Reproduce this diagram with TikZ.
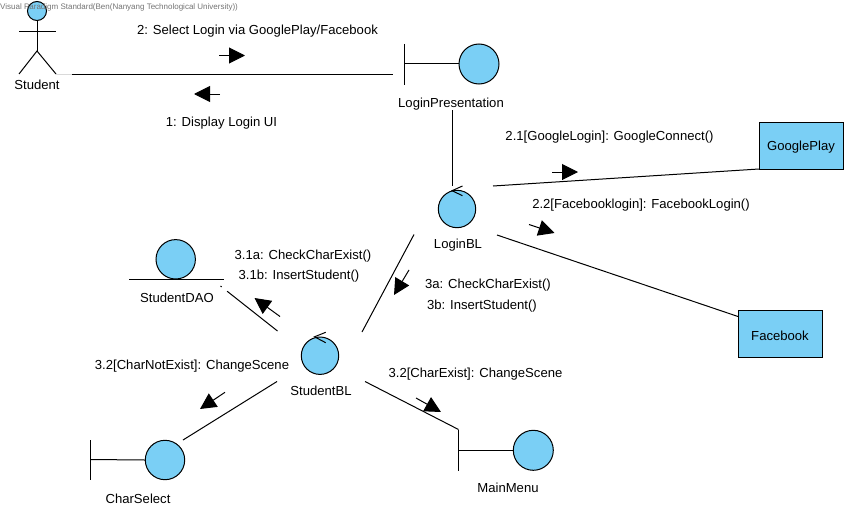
\documentclass[tikz,border=0pt]{standalone}
\usepackage{fontspec}
\setmainfont{Liberation Sans}
\usetikzlibrary{arrows.meta}
\definecolor{vpblue}{HTML}{7ACFF5}
\tikzset{
  line/.style={draw=black,line width=1pt},
  ball/.style={circle,draw=black,fill=vpblue,line width=1pt,inner sep=0pt,minimum size=#1},
  lab/.style={anchor=base,inner sep=0pt,yshift=-1.2pt,font=\fontsize{13.1}{15}\selectfont},
  boxnode/.style={rectangle,draw=black,fill=vpblue,line width=1pt,inner sep=0pt,minimum width=84pt,minimum height=47pt,font=\fontsize{13.1}{15}\selectfont},
  msgarrow/.style={line,-{Triangle[length=16pt,width=16pt]}}
}
\begin{document}
\begin{tikzpicture}[x=1pt,y=-1pt]
\useasboundingbox (0,0) rectangle (848,511);
% actor
\node[ball=19pt] (head) at (37,11) {};
\coordinate (hip) at (37,51);
\coordinate (armL) at (19,32); \coordinate (armR) at (56,32);
\coordinate (legL) at (19,74); \coordinate (legR) at (56,74);
\draw[line] (head.south) -- (hip);
\draw[line] (armL) -- (armR);
\draw[line] (legL) -- (hip) -- (legR);
\node[lab] (student) at (37,88) {Student};
% LoginPresentation
\node[ball=40pt] (lp) at (479,64) {};
\coordinate (lpT) at (404,44); \coordinate (lpB) at (404,85); \coordinate (lpM) at (404,64);
\draw[line] (lpT) -- (lpB);
\draw[line] (lpM) -- (lp.west);
\node[lab] (lpl) at (451,106) {LoginPresentation};
% LoginBL
\node[ball=37.4pt] (lbl) at (457,209) {};
\coordinate (lblA) at (462.5,186); \coordinate (lblB) at (452,190.7); \coordinate (lblC) at (462.5,195.7);
\draw[line] (lblA) -- (lblB) -- (lblC);
\node[lab] (lbll) at (458,247) {LoginBL};
% boxes
\node[boxnode] (gp) at (801,145.5) {\raisebox{-5.1pt}[0pt][0pt]{GooglePlay}};
\node[boxnode] (fb) at (780,334) {\raisebox{-6.6pt}[0pt][0pt]{Facebook}};
% StudentDAO
\node[ball=39.4pt] (dao) at (175.7,259.3) {};
\coordinate (daoL) at (129,279.3); \coordinate (daoR) at (224,279.3);
\draw[line] (daoL) -- (daoR);
\node[lab] (daol) at (177,301) {StudentDAO};
% StudentBL
\node[ball=37.4pt] (sbl) at (320,355.7) {};
\coordinate (sblA) at (325.7,332.3); \coordinate (sblB) at (314.5,336.8); \coordinate (sblC) at (325.7,342.7);
\draw[line] (sblA) -- (sblB) -- (sblC);
\node[lab] (sbll) at (321,394) {StudentBL};
% CharSelect
\node[ball=39.4pt] (cs) at (165,460) {};
\coordinate (csT) at (90.3,440); \coordinate (csB) at (90.3,480); \coordinate (csM) at (90.3,459.5);
\draw[line] (csT) -- (csB);
\draw[line] (csM) -- (cs.west);
\node[lab] (csl) at (138,502) {CharSelect};
% MainMenu
\node[ball=40pt] (mm) at (533.3,450.3) {};
\coordinate (mmT) at (458.5,429.5); \coordinate (mmB) at (458.5,471); \coordinate (mmM) at (458.5,450.3);
\draw[line] (mmT) -- (mmB);
\draw[line] (mmM) -- (mm.west);
\node[lab] (mml) at (508,491) {MainMenu};
% links
\coordinate (s0) at (56,74); \coordinate (s1) at (72,74); \coordinate (s2) at (393,74);
\draw[draw=black!15,line width=.8pt] (s0) -- (s1);
\draw[line] (s1) -- (s2);
\coordinate (a1) at (452,110); \coordinate (a2) at (452,186);
\draw[line] (a1) -- (a2);
\coordinate (b1) at (493,186); \coordinate (b2) at (759,169);
\draw[line] (b1) -- (b2);
\coordinate (c1) at (497,235); \coordinate (c2) at (738,316.5);
\draw[line] (c1) -- (c2);
\coordinate (d1) at (414,234.5); \coordinate (d2) at (362,332);
\draw[line] (d1) -- (d2);
\coordinate (e1) at (220.5,286); \coordinate (e2) at (277.5,331);
\draw[line,dash pattern=on 1.5pt off 7pt on 100pt] (e1) -- (e2);
\coordinate (f1) at (183,440); \coordinate (f2) at (277,381.5);
\draw[line] (f1) -- (f2);
\coordinate (g1) at (365,381.5); \coordinate (g2) at (458.5,429.5);
\draw[line] (g1) -- (g2);
% message arrows
\coordinate (m1a) at (219,55.5); \coordinate (m1b) at (245,55.5);
\draw[msgarrow] (m1a) -- (m1b);
\coordinate (m2a) at (220,94); \coordinate (m2b) at (194,94);
\draw[msgarrow] (m2a) -- (m2b);
\coordinate (m3a) at (552,172); \coordinate (m3b) at (578,172);
\draw[msgarrow] (m3a) -- (m3b);
\coordinate (m4a) at (529,224.5); \coordinate (m4b) at (554.5,233);
\draw[msgarrow] (m4a) -- (m4b);
\coordinate (m5a) at (409,270); \coordinate (m5b) at (394,295);
\draw[msgarrow] (m5a) -- (m5b);
\coordinate (m6a) at (280,316.5); \coordinate (m6b) at (254.5,298);
\draw[msgarrow] (m6a) -- (m6b);
\coordinate (m7a) at (225,392.3); \coordinate (m7b) at (200,409);
\draw[msgarrow] (m7a) -- (m7b);
\coordinate (m8a) at (416,398); \coordinate (m8b) at (441,412);
\draw[msgarrow] (m8a) -- (m8b);
% message labels
\node[lab] (t1) at (257.5,33) {2: Select Login via GooglePlay/Facebook};
\node[lab] (t2) at (221.5,125) {1: Display Login UI};
\node[lab] (t3) at (609.5,139) {2.1[GoogleLogin]: GoogleConnect()};
\node[lab] (t4) at (641,207) {2.2[Facebooklogin]: FacebookLogin()};
\node[lab] (t5) at (488,287) {3a: CheckCharExist()};
\node[lab] (t6) at (482,308) {3b: InsertStudent()};
\node[lab] (t7) at (303,258) {3.1a: CheckCharExist()};
\node[lab] (t8) at (299,278) {3.1b: InsertStudent()};
\node[lab] (t9) at (192,368) {3.2[CharNotExist]: ChangeScene};
\node[lab] (t10) at (475.5,376) {3.2[CharExist]: ChangeScene};
\node[anchor=base west,inner sep=0pt,text=black!55,font=\fontsize{8}{9}\selectfont] (wm) at (0,10) {Visual Paradigm Standard(Ben(Nanyang Technological University))};
\end{tikzpicture}
\end{document}
